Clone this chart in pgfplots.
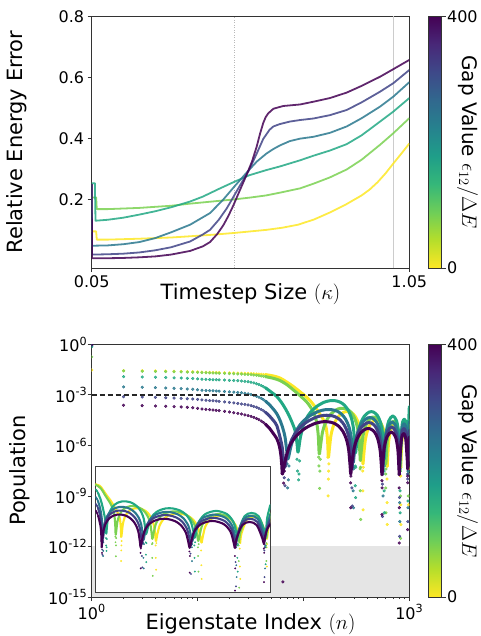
\documentclass[border=0pt]{standalone}
\usepackage[no-math]{fontspec}
\setmainfont{DejaVu Sans}
\usepackage{pgfplots}
\usepackage{pgfplotstable}
\pgfplotsset{compat=1.18}
\definecolor{cY}{HTML}{FDE725}
\definecolor{cG}{HTML}{7AD151}
\definecolor{cT}{HTML}{22A884}
\definecolor{cTB}{HTML}{2A788E}
\definecolor{cB}{HTML}{414487}
\definecolor{cP}{HTML}{440154}
\pgfplotsset{colormap={rviridis}{rgb255=(253,231,37) rgb255=(181,222,43) rgb255=(110,206,88) rgb255=(53,183,121) rgb255=(31,158,137) rgb255=(38,130,142) rgb255=(49,104,142) rgb255=(62,73,137) rgb255=(72,40,120) rgb255=(68,1,84)}}
\pgfplotsset{
  mystyle/.style={scale only axis, tick align=outside, major tick length=4pt, minor tick length=2.2pt,
    xtick pos=left, ytick pos=left,
    axis line style={black!80, line width=0.8pt}, tick style={black!80, line width=0.8pt},
    tick label style={font=\fontsize{16}{19}\selectfont},
    every axis x label/.style={at={(axis description cs:0.5,-0.127)}, anchor=base, font=\fontsize{21}{25}\selectfont},
    colormap name=rviridis, colorbar, point meta min=0, point meta max=400},
  cbstyle/.style={at={(parent axis.north east)}, anchor=north west, xshift=10.7pt,
    scale only axis, width=13pt, height=#1,
    ytick={0,400}, yticklabels={0,400}, yticklabel pos=right, ytick pos=right,
    tick align=outside, major tick length=4pt,
    yticklabel style={font=\fontsize{16}{19}\selectfont, xshift=-2pt},
    axis line style={black!80, line width=0.8pt}, tick style={black!80, line width=0.8pt},
    ylabel={Gap Value $\epsilon_{12}/\Delta E$},
    every axis y label/.style={at={(rel axis cs:3.0,0.5)}, anchor=center, rotate=-90, font=\fontsize{20}{24}\selectfont}},
  topline/.style={#1, line width=1.8pt, opacity=0.85, line join=round},
  band/.style={#1, line width=3pt, smooth, line join=round, line cap=round, no marks},
  dots/.style={#1, only marks, mark=*, mark size=1.35pt, mark options={draw=none, fill opacity=0.8}},
  iband/.style={#1, line width=2.1pt, smooth, line join=round, line cap=round, no marks},
  idots/.style={#1, only marks, mark=*, mark size=0.7pt, mark options={draw=none, fill opacity=0.85}},
}

% ---------- top panel data ----------
\pgfplotstableread{
x y
0.05 0.095
0.064 0.095
0.066 0.068
0.1 0.068
0.2 0.071
0.3 0.075
0.36 0.079
0.43 0.084
0.5 0.090
0.55 0.095
0.6 0.100
0.65 0.107
0.7 0.117
0.75 0.134
0.8 0.157
0.85 0.183
0.9 0.213
0.925 0.232
0.95 0.256
0.975 0.285
1.0 0.318
1.025 0.350
1.05 0.383
}\topY
\pgfplotstableread{
x y
0.05 0.206
0.064 0.206
0.066 0.168
0.1 0.168
0.2 0.172
0.3 0.179
0.36 0.186
0.43 0.193
0.5 0.200
0.55 0.206
0.6 0.213
0.643 0.222
0.706 0.236
0.75 0.252
0.8 0.272
0.853 0.298
0.9 0.330
0.958 0.379
1.0 0.417
1.05 0.466
}\topG
\pgfplotstableread{
x y
0.05 0.253
0.06 0.253
0.062 0.130
0.1 0.133
0.15 0.140
0.2 0.150
0.25 0.161
0.3 0.174
0.36 0.193
0.4 0.209
0.45 0.234
0.5 0.258
0.546 0.279
0.6 0.296
0.643 0.308
0.706 0.328
0.748 0.343
0.8 0.360
0.853 0.381
0.9 0.410
0.958 0.455
1.0 0.488
1.05 0.532
}\topT
\pgfplotstableread{
x y
0.05 0.25
0.051 0.048
0.1 0.049
0.15 0.053
0.2 0.060
0.25 0.073
0.3 0.092
0.36 0.117
0.4225 0.155
0.464 0.199
0.5 0.243
0.527 0.275
0.546 0.297
0.57 0.324
0.6 0.350
0.622 0.365
0.643 0.377
0.674 0.391
0.706 0.399
0.748 0.405
0.8 0.418
0.853 0.439
0.9 0.466
0.958 0.504
1.0 0.537
1.05 0.584
}\topTB
\pgfplotstableread{
x y
0.05 0.25
0.051 0.019
0.1 0.020
0.15 0.022
0.2 0.026
0.25 0.033
0.3 0.043
0.36 0.062
0.4 0.085
0.4225 0.100
0.45 0.133
0.475 0.170
0.5 0.215
0.525 0.260
0.546 0.297
0.5695 0.350
0.59 0.398
0.61 0.428
0.622 0.439
0.643 0.447
0.674 0.455
0.706 0.460
0.748 0.465
0.8 0.476
0.853 0.493
0.9 0.518
0.958 0.553
1.0 0.581
1.05 0.624
}\topB
\pgfplotstableread{
x y
0.05 0.25
0.051 0.007
0.1 0.007
0.15 0.008
0.2 0.010
0.25 0.013
0.3 0.019
0.36 0.031
0.4 0.046
0.4225 0.060
0.445 0.086
0.4644 0.115
0.48 0.145
0.496 0.180
0.517 0.231
0.538 0.281
0.555 0.325
0.5695 0.373
0.58 0.415
0.59 0.450
0.598 0.470
0.606 0.482
0.622 0.497
0.653 0.506
0.706 0.511
0.748 0.520
0.8 0.532
0.853 0.550
0.9 0.572
0.958 0.602
1.0 0.627
1.05 0.657
}\topP

% ---------- bottom panel data (n, population) ----------
\pgfplotstableread{
n p
1 0.03
2 2.75e-2
3 2.69e-2
4 2.63e-2
5 2.57e-2
6 2.51e-2
7 2.45e-2
8 2.40e-2
9 2.34e-2
10 2.29e-2
11 2.24e-2
12 2.19e-2
13 2.17e-2
14 2.14e-2
15 2.12e-2
16 2.09e-2
18 2.04e-2
20 2.00e-2
22 1.98e-2
24 1.95e-2
26 1.92e-2
28 1.90e-2
30 1.86e-2
32 1.82e-2
34 1.78e-2
36 1.74e-2
38 1.70e-2
40 1.66e-2
42 1.62e-2
44 1.58e-2
170 2.0e-7
171 1.0e-9
172 1.0e-8
173 3.0e-8
174 8.0e-8
363 3.0e-8
364 2.0e-9
366 1.5e-10
367 5.0e-8
616 1.0e-8
617 4.0e-10
619 2.0e-11
620 6.0e-8
830 1.5e-8
831 3.0e-10
833 2.0e-11
834 5.0e-8
980 2.0e-8
981 3.0e-10
982 4.0e-8
}\Ydots
\pgfplotstableread{
n p
44 1.58e-2
52 1.32e-2
60 1.0e-2
70 5.62e-3
80 3.16e-3
93 1.51e-3
110 6.31e-4
125 2.51e-4
140 8.91e-5
155 3.16e-5
164 1.12e-5
169 2.0e-6
172 2.0e-7
175.9 6.17e-7
181.7 3.72e-6
191.3 1.38e-5
201 2.82e-5
210.6 4.57e-5
229.9 7.94e-5
249.2 1.0e-4
268.5 1.0e-4
287.8 8.32e-5
307.1 5.50e-5
326.4 2.63e-5
341.8 9.55e-6
353.4 2.34e-6
361.1 2.57e-7
365 7.94e-8
372.6 3.47e-7
385.2 2.34e-6
403 7.59e-6
428.3 1.78e-5
466.2 3.02e-5
504.2 3.02e-5
542.1 1.91e-5
572.5 7.94e-6
597.8 1.62e-6
610.4 2.29e-7
618 5.62e-8
624.4 1.78e-7
639.4 1.91e-6
671.5 1.0e-5
725 2.0e-5
778.5 1.0e-5
810.6 1.91e-6
825.6 1.78e-7
832 5.62e-8
839.5 3.89e-7
869.3 7.94e-6
906.5 1.58e-5
943.8 7.94e-6
973.6 3.89e-7
981 1.26e-7
988 1.0e-6
995 6.31e-6
1000 1.58e-5
}\Yband
\pgfplotstableread{
n p
1 0.18
2 2.63e-2
3 2.51e-2
4 2.45e-2
5 2.40e-2
6 2.34e-2
7 2.29e-2
8 2.24e-2
9 2.19e-2
10 2.14e-2
11 2.09e-2
12 2.04e-2
13 2.0e-2
14 1.98e-2
15 1.95e-2
16 1.91e-2
18 1.86e-2
20 1.82e-2
22 1.78e-2
24 1.74e-2
26 1.70e-2
28 1.66e-2
30 1.62e-2
32 1.58e-2
34 1.51e-2
36 1.45e-2
38 1.38e-2
40 1.32e-2
42 1.26e-2
44 1.20e-2
139 2.0e-7
140 6.0e-8
142 2.8e-9
143 3.0e-8
144 1.5e-7
343 4.0e-8
344 2.0e-9
346 5.0e-8
347 4.0e-11
598 2.0e-8
599 3.0e-9
601 1.0e-10
602 4.0e-8
824 3.0e-8
825 1.0e-9
827 3.0e-12
828 6.0e-8
977 2.0e-8
978 1.0e-9
979 5.0e-8
}\Gdots
\pgfplotstableread{
n p
44 1.20e-2
52 9.55e-3
60 7.08e-3
70 3.98e-3
80 2.0e-3
93 8.91e-4
110 3.16e-4
125 8.91e-5
133 2.51e-5
138 3.98e-6
141 3.16e-7
145.1 9.77e-7
151.2 5.89e-6
161.4 2.19e-5
171.6 4.47e-5
181.8 7.24e-5
202.2 1.26e-4
222.6 1.58e-4
243 1.58e-4
263.4 1.32e-4
283.8 8.71e-5
304.2 4.17e-5
320.5 1.51e-5
332.8 3.72e-6
340.9 4.07e-7
345 1.26e-7
352.7 5.50e-7
365.4 3.72e-6
383.3 1.20e-5
408.8 2.82e-5
447 4.79e-5
485.3 4.79e-5
523.5 3.02e-5
554.1 1.26e-5
579.6 2.57e-6
592.4 3.63e-7
600 7.94e-8
606.8 2.51e-7
622.6 2.69e-6
656.5 1.41e-5
713 2.82e-5
769.5 1.41e-5
803.4 2.69e-6
819.2 2.51e-7
826 7.94e-8
833.6 4.90e-7
864 1.0e-5
902 2.0e-5
940 1.0e-5
970.4 4.90e-7
978 1.58e-7
985 1.58e-6
993 1.0e-5
1000 3.16e-5
}\Gband
\pgfplotstableread{
n p
1 0.72
2 1.20e-2
3 1.15e-2
4 1.10e-2
5 1.07e-2
6 1.02e-2
7 1.0e-2
8 9.55e-3
9 9.33e-3
10 8.91e-3
11 8.51e-3
12 8.32e-3
13 8.13e-3
14 7.94e-3
15 7.85e-3
16 7.76e-3
18 7.59e-3
20 7.24e-3
22 7.08e-3
24 6.92e-3
26 6.61e-3
28 6.31e-3
30 6.03e-3
32 5.62e-3
34 5.13e-3
36 4.57e-3
38 4.07e-3
40 3.55e-3
42 3.02e-3
44 2.57e-3
87 1.5e-7
88 3.0e-8
90 9.0e-9
91 2.0e-8
92 1.2e-7
308 6.0e-8
309 4.0e-9
311 8.0e-10
312 5.0e-8
578 3.0e-8
579 2.0e-9
581 1.0e-10
582 6.0e-8
816 3.0e-8
817 2.0e-9
819 1.0e-10
820 4.0e-8
973 2.0e-8
974 5.0e-10
975 3.0e-8
}\Tdots
\pgfplotstableread{
n p
44 2.57e-3
50 1.41e-3
56 7.94e-4
62 3.55e-4
68 1.41e-4
74 5.01e-5
80 1.58e-5
84 6.31e-6
87 1.26e-6
89 3.98e-7
93.4 2.75e-6
100.1 1.66e-5
111.1 6.17e-5
122.2 1.26e-4
133.2 2.04e-4
155.3 3.55e-4
177.4 4.47e-4
199.5 4.47e-4
221.6 3.72e-4
243.7 2.45e-4
265.8 1.17e-4
283.5 4.27e-5
296.7 1.05e-5
305.6 1.15e-6
310 3.55e-7
318.1 1.10e-6
331.6 7.41e-6
350.5 2.40e-5
377.5 5.62e-5
418 9.55e-5
458.5 9.55e-5
499 6.03e-5
531.4 2.51e-5
558.4 5.13e-6
571.9 7.24e-7
580 1.58e-7
587.1 5.01e-7
603.8 5.37e-6
639.5 2.82e-5
699 5.62e-5
758.5 2.82e-5
794.2 5.37e-6
810.9 5.01e-7
818 1.58e-7
825.8 8.71e-7
857 1.78e-5
896 3.55e-5
935 1.78e-5
966.2 8.71e-7
974 2.51e-7
982 1.0e-5
991 5.01e-5
1000 2.0e-4
}\Tband
\pgfplotstableread{
n p
1 0.85
2 2.95e-3
3 2.82e-3
4 2.69e-3
5 2.57e-3
6 2.45e-3
7 2.34e-3
8 2.24e-3
9 2.14e-3
10 2.0e-3
11 1.86e-3
12 1.82e-3
13 1.78e-3
14 1.74e-3
15 1.70e-3
16 1.66e-3
18 1.58e-3
20 1.51e-3
22 1.45e-3
24 1.38e-3
26 1.32e-3
28 1.23e-3
30 1.15e-3
32 1.05e-3
34 9.33e-4
36 8.32e-4
38 7.24e-4
40 6.17e-4
42 5.13e-4
44 4.17e-4
70 8.0e-8
71 3.0e-9
72 9.0e-9
73 6.0e-8
294 5.0e-8
295 2.0e-9
297 2.0e-10
298 4.0e-8
564 2.0e-8
565 1.0e-9
567 4.0e-8
810 2.0e-8
811 4.0e-10
813 3.0e-11
814 5.0e-8
970 2.0e-8
971 2.0e-10
972 3.0e-8
}\TBdots
\pgfplotstableread{
n p
44 4.17e-4
48 2.51e-4
52 1.41e-4
56 7.59e-5
60 3.16e-5
64 1.0e-5
67 3.16e-6
69.5 5.01e-7
71.5 1.58e-7
76.0 8.13e-7
82.7 4.90e-6
93.9 1.82e-5
105.2 3.72e-5
116.4 6.03e-5
138.9 1.05e-4
161.3 1.32e-4
183.8 1.32e-4
206.2 1.10e-4
228.7 7.24e-5
251.1 3.47e-5
269.1 1.26e-5
282.5 3.09e-6
291.5 3.39e-7
296 1.0e-7
304.1 4.90e-7
317.6 3.31e-6
336.5 1.07e-5
363.5 2.51e-5
404 4.27e-5
444.5 4.27e-5
485 2.69e-5
517.4 1.12e-5
544.4 2.29e-6
557.9 3.24e-7
566 7.08e-8
573.4 2.24e-7
590.6 2.40e-6
627.5 1.26e-5
689 2.51e-5
750.5 1.26e-5
787.4 2.40e-6
804.6 2.24e-7
812 7.08e-8
820 4.68e-7
851.8 9.55e-6
891.5 1.91e-5
931.3 9.55e-6
963 4.68e-7
971 1.58e-7
978 1.0e-6
990 6.31e-6
1000 2.51e-5
}\TBband
\pgfplotstableread{
n p
1 0.93
2 7.76e-4
3 7.41e-4
4 7.08e-4
5 6.76e-4
6 6.46e-4
7 6.17e-4
8 5.89e-4
9 5.62e-4
10 5.37e-4
11 5.01e-4
12 4.79e-4
13 4.57e-4
14 4.47e-4
15 4.27e-4
16 4.07e-4
18 3.80e-4
20 3.55e-4
22 3.31e-4
24 3.09e-4
26 2.88e-4
28 2.69e-4
30 2.51e-4
32 2.29e-4
34 2.04e-4
36 1.82e-4
38 1.58e-4
40 1.35e-4
42 1.12e-4
44 9.12e-5
65 6.0e-8
66 1.2e-8
67 4.0e-9
68 6.0e-8
286 4.0e-8
287 3.0e-9
289 2.5e-10
290 5.0e-8
556 3.0e-8
557 5.0e-9
559 6.0e-11
560 3.0e-8
806 2.0e-8
807 8.0e-10
809 4.0e-12
810 4.0e-8
967 1.0e-8
968 3.0e-11
969 2.0e-8
}\Bdots
\pgfplotstableread{
n p
44 9.12e-5
48 5.37e-5
52 3.02e-5
56 1.51e-5
60 3.16e-6
63 7.94e-7
65 1.26e-7
66.5 5.01e-8
70.9 3.72e-7
77.6 2.24e-6
88.7 8.32e-6
99.7 1.70e-5
110.8 2.75e-5
132.9 4.79e-5
155.1 6.03e-5
177.3 6.03e-5
199.4 5.01e-5
221.6 3.31e-5
243.7 1.58e-5
261.4 5.75e-6
274.7 1.41e-6
283.6 1.55e-7
288 5.01e-8
296.1 2.45e-7
309.6 1.66e-6
328.5 5.37e-6
355.5 1.26e-5
396 2.14e-5
436.5 2.14e-5
477 1.35e-5
509.4 5.62e-6
536.4 1.15e-6
549.9 1.62e-7
558 3.55e-8
565.5 1.12e-7
583 1.20e-6
620.5 6.31e-6
683 1.26e-5
745.5 6.31e-6
783 1.20e-6
800.5 1.12e-7
808 3.55e-8
816 2.45e-7
848 5.01e-6
888 1.0e-5
928 5.01e-6
960 2.45e-7
968 7.94e-8
975 5.01e-7
988 2.51e-6
1000 7.94e-6
}\Bband
\pgfplotstableread{
n p
1 0.97
2 2.40e-4
3 2.29e-4
4 2.19e-4
5 2.09e-4
6 2.00e-4
7 1.91e-4
8 1.82e-4
9 1.70e-4
10 1.58e-4
11 1.45e-4
12 1.38e-4
13 1.32e-4
14 1.26e-4
15 1.20e-4
16 1.15e-4
18 1.05e-4
20 9.55e-5
22 8.71e-5
24 7.94e-5
26 7.24e-5
28 6.46e-5
30 5.89e-5
32 5.25e-5
34 4.57e-5
36 3.98e-5
38 3.39e-5
40 2.75e-5
42 2.24e-5
44 1.78e-5
62 8.0e-8
63 2.2e-8
64 7.9e-15
65 5.8e-9
66 3.0e-8
278 3.0e-8
279 6.0e-9
280 2.0e-10
281 1.5e-8
550 2.5e-8
551 8.0e-9
552 8.0e-11
553 3.0e-9
802 2.0e-8
803 3.0e-9
804 1.6e-12
805 2.0e-10
964 1.5e-8
965 1.0e-11
966 6.0e-9
}\Pdots
\pgfplotstableread{
n p
44 1.78e-5
48 1.0e-5
52 5.01e-6
56 2.51e-6
59 1.0e-6
61 3.16e-7
62.5 6.31e-8
63.4 2.0e-8
67.7 1.55e-7
74.1 9.33e-7
85.1 3.47e-6
95.9 7.08e-6
106.7 1.15e-5
128.4 2.0e-5
150.0 2.51e-5
171.7 2.51e-5
193.4 2.09e-5
215.0 1.38e-5
236.7 6.61e-6
254.0 2.40e-6
267.0 5.89e-7
275.7 6.46e-8
280 2.0e-8
288.2 1.10e-7
301.8 7.41e-7
320.8 2.40e-6
348 5.62e-6
388.8 9.55e-6
429.6 9.55e-6
470.4 6.03e-6
503 2.51e-6
530.2 5.13e-7
543.8 7.24e-8
552 1.78e-8
559.6 5.62e-8
577.2 6.03e-7
615 3.16e-6
678 6.31e-6
741 3.16e-6
778.8 6.03e-7
796.4 5.62e-8
804 1.78e-8
812 1.23e-7
844.3 2.51e-6
884.5 5.01e-6
924.8 2.51e-6
957 1.23e-7
965 3.98e-8
972 2.51e-7
985 1.26e-6
1000 3.16e-6
}\Pband

\begin{document}
\begin{tikzpicture}[x=1pt,y=1pt]
\useasboundingbox (0,0) rectangle (481,-636);

% ================= TOP PANEL =================
\begin{axis}[mystyle,
  at={(91.7pt,-268pt)}, anchor=south west, width=317.6pt, height=251.7pt,
  xmin=0.05, xmax=1.05, ymin=-0.025, ymax=0.8,
  xtick={0.05,1.05}, xticklabels={0.05,1.05},
  ytick={0.2,0.4,0.6,0.8}, yticklabels={0.2,0.4,0.6,0.8},
  xlabel={Timestep Size $(\kappa)$}, ylabel={Relative Energy Error},
  every axis y label/.style={at={(axis description cs:-0.237,0.5)}, rotate=90, anchor=center, font=\fontsize{21}{25}\selectfont},
  colorbar style={cbstyle=251.7pt}]
\addplot[gray!55, line width=0.9pt, dash pattern=on 0.9pt off 1.6pt] coordinates {(0.5,-0.025) (0.5,0.8)};
\addplot[gray!40, line width=1.6pt] coordinates {(1.0,-0.025) (1.0,0.8)};
\addplot[topline=cY] table {\topY};
\addplot[topline=cG] table {\topG};
\addplot[topline=cT] table {\topT};
\addplot[topline=cTB] table {\topTB};
\addplot[topline=cB] table {\topB};
\addplot[topline=cP] table {\topP};
\end{axis}

% ================= BOTTOM PANEL =================
\begin{axis}[mystyle,
  at={(91.7pt,-597pt)}, anchor=south west, width=317.6pt, height=252.7pt,
  xmode=log, ymode=log, xmin=1, xmax=1000, ymin=1e-15, ymax=1,
  xtick={1,10,100,1000}, xticklabels={10\textsuperscript{0},{},{},10\textsuperscript{3}},
  ytick={1e-15,1e-12,1e-9,1e-6,1e-3,1},
  yticklabels={10\textsuperscript{-15},10\textsuperscript{-12},10\textsuperscript{-9},10\textsuperscript{-6},10\textsuperscript{-3},10\textsuperscript{0}},
  yminorticks=false, yticklabel style={xshift=3pt},
  clip marker paths=true,
  xlabel={Eigenstate Index $(n)$}, ylabel={Population},
  every axis y label/.style={at={(axis description cs:-0.228,0.5)}, rotate=90, anchor=center, font=\fontsize{21}{25}\selectfont},
  colorbar style={cbstyle=252.7pt}]
\addplot[draw=none, fill=black!10] coordinates {(1,1e-15) (1000,1e-15) (1000,1e-12) (1,1e-12)} -- cycle;
\addplot[band=cY] table {\Yband};
\addplot[dots=cY] table {\Ydots};
\addplot[band=cG] table {\Gband};
\addplot[dots=cG] table {\Gdots};
\addplot[band=cT] table {\Tband};
\addplot[dots=cT] table {\Tdots};
\addplot[band=cTB] table {\TBband};
\addplot[dots=cTB] table {\TBdots};
\addplot[band=cB] table {\Bband};
\addplot[dots=cB] table {\Bdots};
\addplot[band=cP] table {\Pband};
\addplot[dots=cP] table {\Pdots};
\addplot[black!85, line width=1.5pt, dash pattern=on 5.5pt off 2.5pt] coordinates {(1,1e-3) (1000,1e-3)};
\end{axis}

% ================= INSET =================
\begin{axis}[at={(95.7pt,-592.7pt)}, anchor=south west, scale only axis,
  width=174.6pt, height=126.7pt,
  xmin=30, xmax=1000, ymode=log, ymin=1e-12, ymax=1,
  xtick=\empty, ytick=\empty, xminorticks=false, yminorticks=false,
  axis line style={black!75, line width=1pt},
  axis background/.style={fill=white}, clip marker paths=true]
\addplot[iband=cY] table {\Yband};
\addplot[idots=cY] table {\Ydots};
\addplot[iband=cG] table {\Gband};
\addplot[idots=cG] table {\Gdots};
\addplot[iband=cT] table {\Tband};
\addplot[idots=cT] table {\Tdots};
\addplot[iband=cTB] table {\TBband};
\addplot[idots=cTB] table {\TBdots};
\addplot[iband=cB] table {\Bband};
\addplot[idots=cB] table {\Bdots};
\addplot[iband=cP] table {\Pband};
\addplot[idots=cP] table {\Pdots};
\end{axis}
\end{tikzpicture}
\end{document}
